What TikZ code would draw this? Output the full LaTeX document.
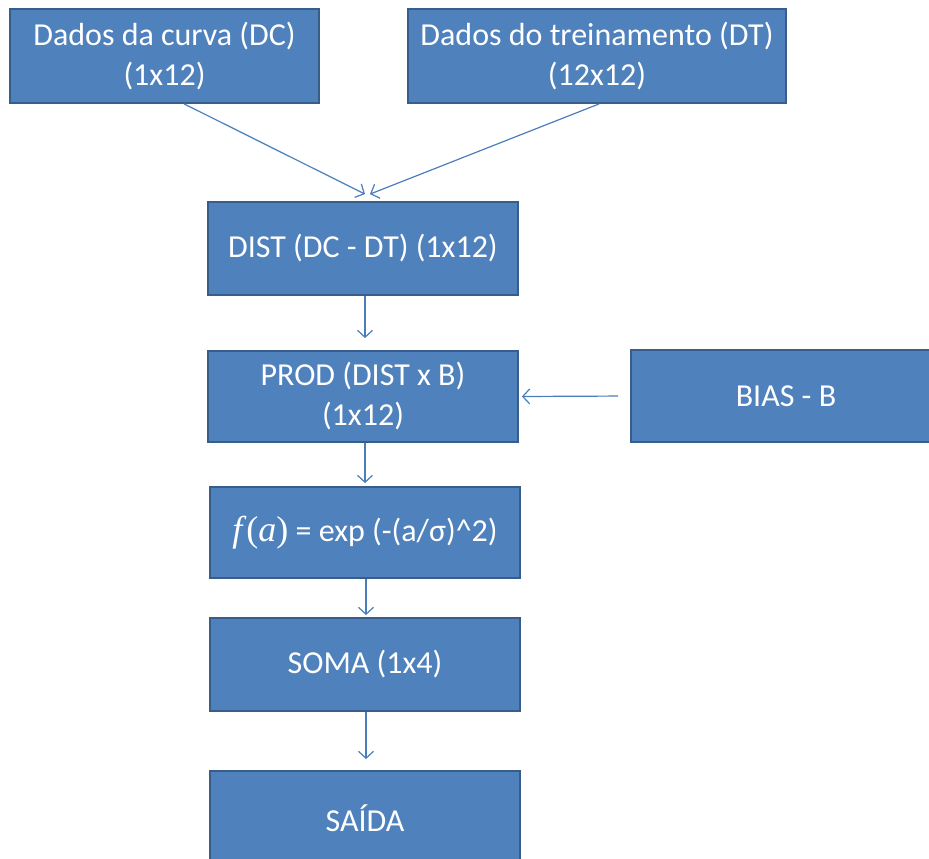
\documentclass[tikz,border=0pt]{standalone}
\usepackage{fontspec}
\setmainfont{Carlito}
\newfontfamily\formulafont{Liberation Serif}
\usetikzlibrary{arrows.meta,calc}
\definecolor{boxfill}{HTML}{4F81BD}
\definecolor{boxline}{HTML}{385D8A}
\definecolor{linkcol}{HTML}{4A7EBB}
\newcommand{\fofa}{{\formulafont\fontsize{36}{40}\selectfont\textit{f}(\textit{a})}}
\begin{document}
\begin{tikzpicture}[x=1pt,y=-1pt,
  blockbox/.style={draw=boxline,line width=1.8pt,fill=boxfill,text=white,
    font=\fontsize{32}{40}\selectfont,align=center,inner sep=0pt},
  link/.style={draw=linkcol,line width=1.2pt,
    -{Straight Barb[length=7pt,width=15pt,line width=1.2pt]}}]
  \useasboundingbox (0,0) rectangle (929,859);
  % boxes (corner-to-corner)
  \node[blockbox,minimum width=309pt,minimum height=94pt] (dc) at (164.5,56)
    {Dados da curva (DC)\\(1x12)};
  \node[blockbox,minimum width=378pt,minimum height=94pt] (dt) at (597,56)
    {Dados do treinamento (DT)\\(12x12)};
  \node[blockbox,minimum width=310pt,minimum height=93pt] (dist) at (363,248.5)
    {DIST (DC - DT) (1x12)};
  \node[blockbox,minimum width=310pt,minimum height=91pt] (prod) at (363,396.5)
    {PROD (DIST x B)\\(1x12)};
  \node[blockbox,minimum width=310pt,minimum height=92pt] (bias) at (786,396)
    {BIAS - B};
  \node[blockbox,minimum width=310pt,minimum height=91pt] (fa) at (365,532.5)
    {\fofa{} = exp (-(a/σ)\^{}2)};
  \node[blockbox,minimum width=310pt,minimum height=93pt] (soma) at (365,664.5)
    {SOMA (1x4)};
  \node[blockbox,minimum width=310pt,minimum height=94pt] (saida) at (365,818)
    {SAÍDA};
  % connectors
  \coordinate (joinL) at ($(dist.north)+(2,-7)$);
  \coordinate (joinR) at ($(dist.north)+(7,-7)$);
  \draw[link] ($(dc.south west)+(175,0)$) -- (joinL);
  \draw[link] ($(dt.south west)+(192,0)$) -- (joinR);
  \draw[link] ($(dist.south)+(2,0)$) -- ($(prod.north)+(2,-12)$);
  \draw[link,shorten <=12pt,shorten >=3pt] (bias.west) -- (prod.east);
  \draw[link] ($(prod.south)+(2,0)$) -- ($(fa.north)+(0,-3)$);
  \draw[link] ($(fa.south)+(1,0)$) -- ($(soma.north)+(1,-2)$);
  \draw[link] ($(soma.south)+(1,0)$) -- ($(saida.north)+(1,-11)$);
\end{tikzpicture}
\end{document}
